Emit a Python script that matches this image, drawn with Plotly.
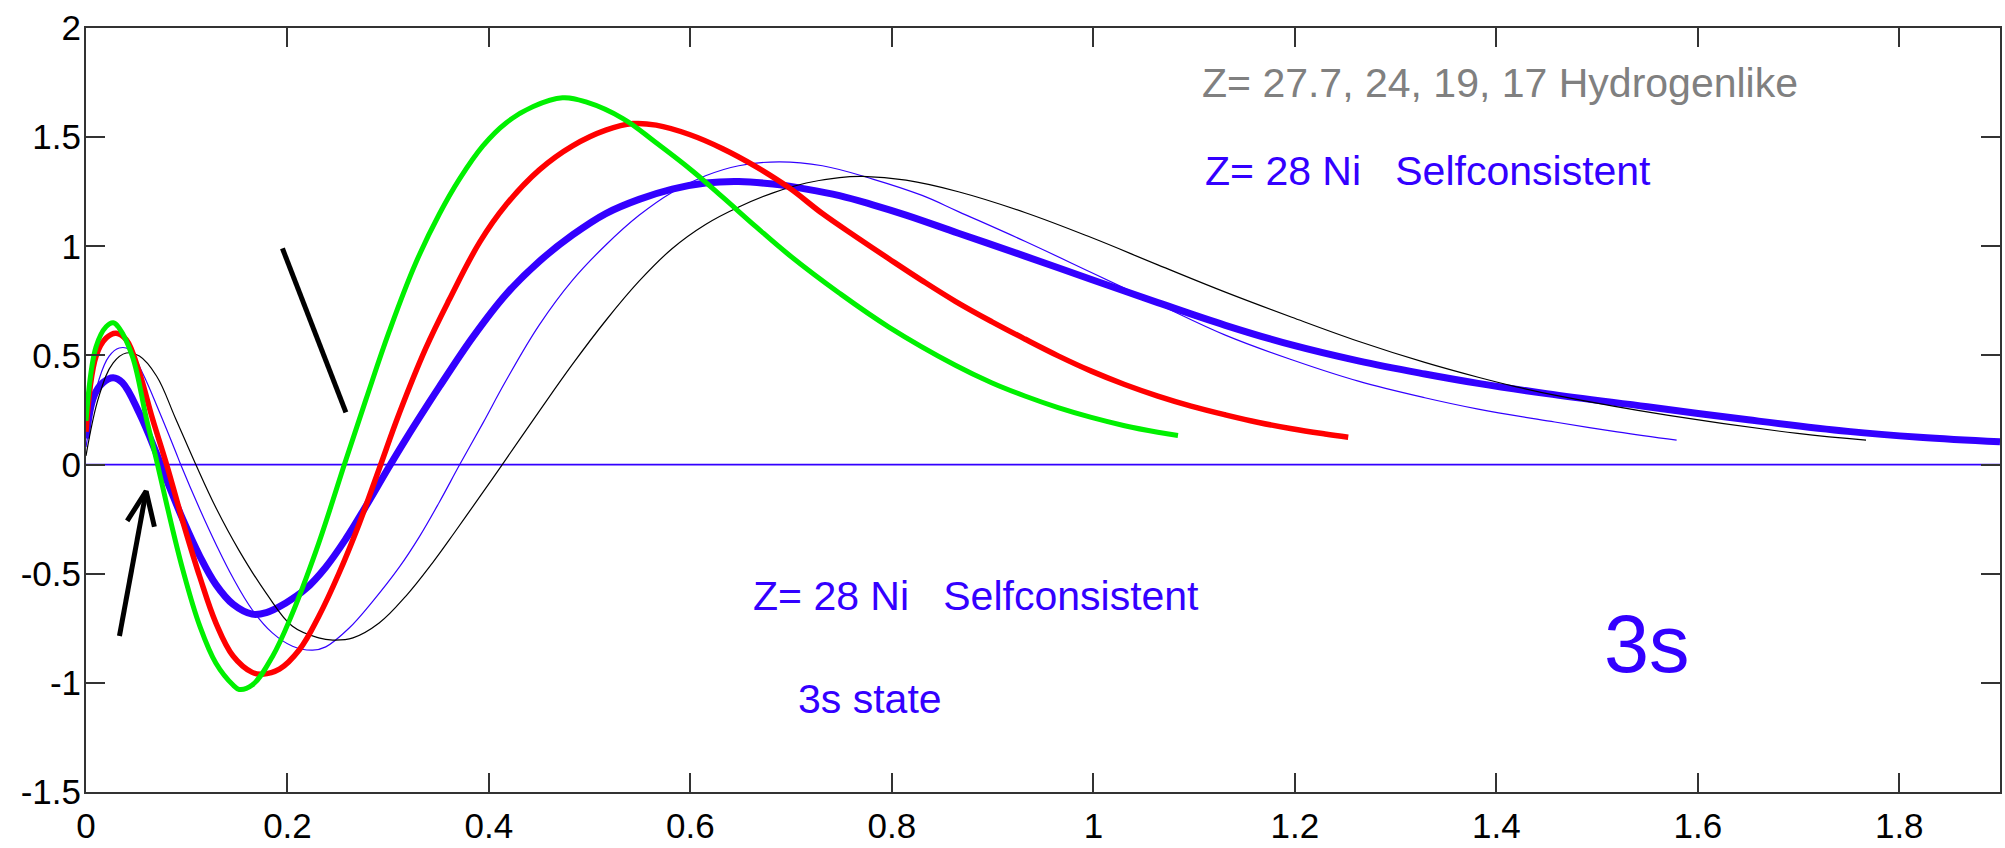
import plotly.graph_objects as go

# ---------------- data ----------------
green_x = [0.000, 0.010, 0.020, 0.027, 0.033, 0.046, 0.060, 0.070, 0.080, 0.096, 0.113, 0.129, 0.146, 0.152,
           0.165, 0.185, 0.205, 0.228, 0.245, 0.255, 0.278, 0.301, 0.327, 0.351, 0.371, 0.394, 0.417, 0.444,
           0.473, 0.497, 0.533, 0.566, 0.602, 0.632, 0.665, 0.698, 0.748, 0.797, 0.863, 0.899, 0.932, 0.965,
           0.998, 1.031, 1.064, 1.084]
green_y = [0.20, 0.54, 0.632, 0.650, 0.625, 0.497, 0.210, 0.02, -0.18, -0.48, -0.74, -0.91, -1.01, -1.03,
           -1.01, -0.88, -0.68, -0.40, -0.165, -0.02, 0.30, 0.61, 0.92, 1.15, 1.31, 1.46, 1.565, 1.64,
           1.680, 1.660, 1.585, 1.474, 1.345, 1.225, 1.09, 0.96, 0.785, 0.63, 0.455, 0.375, 0.314, 0.261,
           0.216, 0.178, 0.148, 0.133]

red_x = [0.000, 0.010, 0.020, 0.030, 0.040, 0.053, 0.066, 0.080, 0.096, 0.113, 0.129, 0.146, 0.165, 0.175,
         0.192, 0.212, 0.231, 0.251, 0.271, 0.291, 0.311, 0.337, 0.360, 0.391, 0.417, 0.450, 0.483, 0.516,
         0.543, 0.566, 0.599, 0.632, 0.665, 0.698, 0.731, 0.764, 0.797, 0.830, 0.863, 0.899, 0.932, 0.965,
         0.998, 1.031, 1.064, 1.097, 1.131, 1.164, 1.197, 1.230, 1.253]
red_y = [0.15, 0.497, 0.580, 0.602, 0.572, 0.421, 0.210, 0.0, -0.259, -0.515, -0.726, -0.877, -0.952, -0.960,
         -0.937, -0.847, -0.696, -0.499, -0.273, -0.02, 0.235, 0.53, 0.75, 1.02, 1.19, 1.35, 1.46, 1.532,
         1.562, 1.555, 1.512, 1.447, 1.365, 1.268, 1.15, 1.045, 0.943, 0.843, 0.748, 0.655, 0.575, 0.498,
         0.428, 0.367, 0.314, 0.268, 0.228, 0.193, 0.164, 0.140, 0.125]

sc_x = [0.000, 0.008, 0.017, 0.027, 0.036, 0.053, 0.070, 0.080, 0.096, 0.113, 0.129, 0.146, 0.165, 0.179,
        0.198, 0.218, 0.238, 0.258, 0.278, 0.300, 0.318, 0.340, 0.351, 0.384, 0.417, 0.450, 0.483, 0.516,
        0.549, 0.582, 0.615, 0.648, 0.682, 0.715, 0.748, 0.781, 0.814, 0.866, 0.932, 0.998, 1.064, 1.131,
        1.197, 1.263, 1.329, 1.382, 1.450, 1.550, 1.650, 1.749, 1.820, 1.900]
sc_y = [0.12, 0.315, 0.376, 0.398, 0.376, 0.235, 0.05, -0.07, -0.25, -0.42, -0.55, -0.64, -0.685, -0.678,
        -0.635, -0.57, -0.47, -0.34, -0.19, -0.017, 0.12, 0.28, 0.358, 0.584, 0.780, 0.931, 1.052, 1.150,
        1.215, 1.262, 1.290, 1.297, 1.285, 1.262, 1.232, 1.19, 1.143, 1.06, 0.955, 0.848, 0.742, 0.638,
        0.548, 0.475, 0.415, 0.372, 0.325, 0.265, 0.205, 0.152, 0.125, 0.104]

hb_x = [0.000, 0.013, 0.023, 0.033, 0.043, 0.056, 0.073, 0.089, 0.094, 0.113, 0.129, 0.146, 0.165, 0.185,
        0.205, 0.225, 0.238, 0.261, 0.284, 0.311, 0.331, 0.351, 0.371, 0.394, 0.417, 0.450, 0.483, 0.516,
        0.549, 0.582, 0.615, 0.648, 0.688, 0.731, 0.781, 0.830, 0.866, 0.932, 0.998, 1.064, 1.131, 1.197,
        1.263, 1.329, 1.382, 1.458, 1.520, 1.579]
hb_y = [0.08, 0.391, 0.497, 0.534, 0.527, 0.421, 0.240, 0.059, 0.0, -0.205, -0.365, -0.52, -0.665, -0.771,
        -0.832, -0.850, -0.835, -0.75, -0.63, -0.47, -0.33, -0.17, 0.0, 0.19, 0.385, 0.64, 0.845, 1.006,
        1.142, 1.248, 1.323, 1.369, 1.387, 1.369, 1.308, 1.233, 1.159, 1.023, 0.880, 0.736, 0.593, 0.480,
        0.382, 0.306, 0.254, 0.195, 0.150, 0.112]

hk_x = [0.000, 0.013, 0.027, 0.040, 0.053, 0.070, 0.089, 0.109, 0.129, 0.152, 0.179, 0.205, 0.231, 0.245,
        0.265, 0.291, 0.318, 0.344, 0.366, 0.392, 0.417, 0.450, 0.483, 0.516, 0.549, 0.582, 0.615, 0.648,
        0.682, 0.715, 0.748, 0.771, 0.814, 0.866, 0.932, 0.998, 1.064, 1.131, 1.197, 1.263, 1.329, 1.382,
        1.420, 1.458, 1.571, 1.699, 1.767]
hk_y = [0.04, 0.315, 0.466, 0.511, 0.497, 0.406, 0.210, 0.0, -0.198, -0.394, -0.590, -0.741, -0.794, -0.804,
        -0.794, -0.726, -0.60, -0.45, -0.31, -0.14, 0.025, 0.245, 0.46, 0.66, 0.84, 0.99, 1.10, 1.18,
        1.245, 1.29, 1.315, 1.320, 1.303, 1.25, 1.155, 1.04, 0.915, 0.79, 0.675, 0.565, 0.468, 0.40,
        0.356, 0.318, 0.225, 0.143, 0.112]

zero_x = [0.0, 1.9]
zero_y = [0.0, 0.0]

# black hand-drawn pointer lines
pointer_x = [0.195, 0.258]
pointer_y = [0.99, 0.239]
arrow_x = [0.0332, 0.0597, None, 0.0409, 0.0597, 0.0679]
arrow_y = [-0.785, -0.122, None, -0.258, -0.122, -0.285]

x_ticks = [0, 0.2, 0.4, 0.6, 0.8, 1.0, 1.2, 1.4, 1.6, 1.8]
x_ticktext = ["0", "0.2", "0.4", "0.6", "0.8", "1", "1.2", "1.4", "1.6", "1.8"]
y_ticks = [-1.5, -1.0, -0.5, 0, 0.5, 1.0, 1.5, 2.0]
y_ticktext = ["-1.5", "-1", "-0.5", "0", "0.5", "1", "1.5", "2"]

# ---------------- styling ----------------
BLUE = "#3300ff"
FONT = "Liberation Sans, Arial, Helvetica, sans-serif"
SPL = dict(shape="spline", smoothing=1.1)

fig = go.Figure()
fig.add_trace(go.Scatter(x=zero_x, y=zero_y, mode="lines", line=dict(color=BLUE, width=1.7)))
fig.add_trace(go.Scatter(x=sc_x, y=sc_y, mode="lines", line=dict(color=BLUE, width=7, **SPL)))
fig.add_trace(go.Scatter(x=hb_x, y=hb_y, mode="lines", line=dict(color=BLUE, width=1.2, **SPL)))
fig.add_trace(go.Scatter(x=hk_x, y=hk_y, mode="lines", line=dict(color="#000000", width=1.2, **SPL)))
fig.add_trace(go.Scatter(x=red_x, y=red_y, mode="lines", line=dict(color="#ff0000", width=5.5, **SPL)))
fig.add_trace(go.Scatter(x=green_x, y=green_y, mode="lines", line=dict(color="#00f000", width=5, **SPL)))
fig.add_trace(go.Scatter(x=pointer_x, y=pointer_y, mode="lines", line=dict(color="#000000", width=5)))
fig.add_trace(go.Scatter(x=arrow_x, y=arrow_y, mode="lines", line=dict(color="#000000", width=5)))

annos = [
    dict(x=1.106, y=1.746, text="Z= 27.7, 24, 19, 17 Hydrogenlike", color="#808080", size=41),
    dict(x=1.109, y=1.345, text="Z= 28 Ni\u00a0\u00a0\u00a0Selfconsistent", color=BLUE, size=41),
    dict(x=0.660, y=-0.600, text="Z= 28 Ni\u00a0\u00a0\u00a0Selfconsistent", color=BLUE, size=41),
    dict(x=0.705, y=-1.075, text="3s state", color=BLUE, size=41),
    dict(x=1.505, y=-0.82, text="3s", color=BLUE, size=81),
]
for a in annos:
    fig.add_annotation(x=a["x"], y=a["y"], xref="x", yref="y", text=a["text"], showarrow=False,
                       xanchor="left", yanchor="middle",
                       font=dict(family=FONT, size=a["size"], color=a["color"]))

axis_common = dict(showgrid=False, zeroline=False, showline=True, mirror="ticks", linecolor="#333333",
                   linewidth=2, ticks="inside", ticklen=19, tickwidth=1.5, tickcolor="#333333",
                   tickfont=dict(family=FONT, size=35, color="#000000"))

fig.update_layout(
    width=2005, height=848,
    margin=dict(l=86, r=3, t=28, b=47),
    paper_bgcolor="white", plot_bgcolor="white",
    showlegend=False,
    xaxis=dict(range=[0, 1.9], tickvals=x_ticks, ticktext=x_ticktext, ticklabelstandoff=2, **axis_common),
    yaxis=dict(range=[-1.5, 2.0], tickvals=y_ticks, ticktext=y_ticktext, ticklabelstandoff=-4, **axis_common),
)

fig.write_html("out.html")
